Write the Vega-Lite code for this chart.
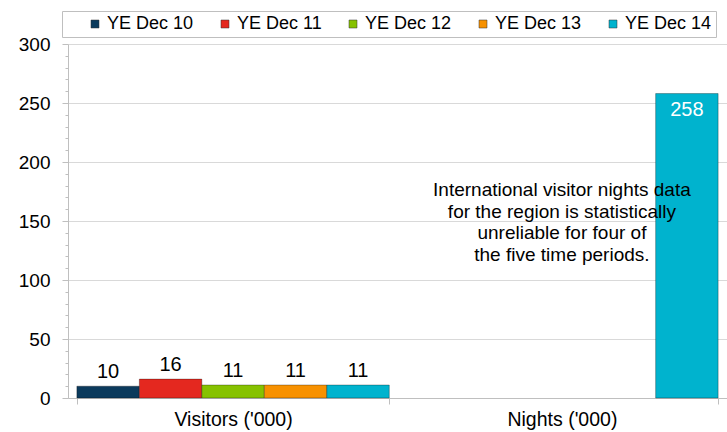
{
  "$schema": "https://vega.github.io/schema/vega-lite/v6.json",
  "width": 659,
  "height": 354,
  "autosize": {"type": "none"},
  "padding": {"left": 68, "top": 44, "right": 0, "bottom": 34},
  "background": "white",
  "config": {
    "font": "Liberation Sans",
    "view": {"stroke": null},
    "axis": {"labelColor": "#000000", "domainColor": "#BFBFBF", "tickColor": "#BFBFBF", "gridColor": "#D9D9D9"}
  },
  "datasets": {
    "bars": [
      {"measure": "Visitors ('000)", "period": "YE Dec 10", "value": 10},
      {"measure": "Visitors ('000)", "period": "YE Dec 11", "value": 16},
      {"measure": "Visitors ('000)", "period": "YE Dec 12", "value": 11},
      {"measure": "Visitors ('000)", "period": "YE Dec 13", "value": 11},
      {"measure": "Visitors ('000)", "period": "YE Dec 14", "value": 11},
      {"measure": "Nights ('000)", "period": "YE Dec 10", "value": null},
      {"measure": "Nights ('000)", "period": "YE Dec 11", "value": null},
      {"measure": "Nights ('000)", "period": "YE Dec 12", "value": null},
      {"measure": "Nights ('000)", "period": "YE Dec 13", "value": null},
      {"measure": "Nights ('000)", "period": "YE Dec 14", "value": 258}
    ],
    "note": [
      {"measure": "Nights ('000)", "value": 176, "text": ["International visitor nights data", "for the region is statistically", "unreliable for four of", "the five time periods."]}
    ]
  },
  "encoding": {
    "x": {
      "field": "measure",
      "type": "nominal",
      "sort": ["Visitors ('000)", "Nights ('000)"],
      "scale": {"domain": ["Visitors ('000)", "Nights ('000)"], "paddingInner": 0.05, "paddingOuter": 0.027},
      "axis": {"title": null, "labelAngle": 0, "labelFontSize": 19.5, "labelPadding": 6, "tickSize": 6, "tickBand": "extent", "grid": false}
    },
    "y": {
      "field": "value",
      "type": "quantitative",
      "scale": {"domain": [0, 300], "nice": false},
      "axis": {
        "title": null,
        "values": [0,10,20,30,40,50,60,70,80,90,100,110,120,130,140,150,160,170,180,190,200,210,220,230,240,250,260,270,280,290,300],
        "labelExpr": "datum.value % 50 === 0 ? datum.label : ''",
        "labelFontSize": 19,
        "labelPadding": 12,
        "tickSize": {"condition": {"test": "datum.value % 50 === 0", "value": 6}, "value": 3},
        "gridOpacity": {"condition": {"test": "datum.value % 50 === 0", "value": 1}, "value": 0},
        "grid": true
      }
    }
  },
  "layer": [
    {
      "data": {"name": "bars"},
      "mark": {"type": "bar", "stroke": "#000000", "strokeOpacity": 0.3, "strokeWidth": 1},
      "encoding": {
        "xOffset": {"field": "period", "type": "nominal", "scale": {"paddingInner": 0, "paddingOuter": 0}},
        "color": {
          "field": "period",
          "type": "nominal",
          "scale": {
            "domain": ["YE Dec 10", "YE Dec 11", "YE Dec 12", "YE Dec 13", "YE Dec 14"],
            "range": ["#0B3A5C", "#E4281F", "#86C200", "#F79100", "#00B3CE"]
          },
          "legend": {
            "orient": "none",
            "legendX": -6,
            "legendY": -33,
            "direction": "horizontal",
            "title": " ",
            "titleOrient": "left",
            "titleFontSize": 18,
            "titlePadding": 20,
            "labelExpr": "datum.label == 'YE Dec 14' ? datum.label + '  ' : datum.label",
            "padding": 4,
            "strokeColor": "#BFBFBF",
            "symbolType": "square",
            "symbolSize": 64,
            "symbolStrokeWidth": 0.5,
            "symbolStrokeColor": "#333333",
            "labelFontSize": 18,
            "labelColor": "#000000",
            "labelOffset": 3,
            "columnPadding": 22
          }
        }
      }
    },
    {
      "data": {"name": "bars"},
      "transform": [{"filter": "datum.value != null && datum.value < 100"}],
      "mark": {"type": "text", "baseline": "bottom", "dy": -4, "fontSize": 20, "color": "#000000"},
      "encoding": {
        "xOffset": {"field": "period", "type": "nominal", "scale": {"domain": ["YE Dec 10", "YE Dec 11", "YE Dec 12", "YE Dec 13", "YE Dec 14"]}},
        "text": {"field": "value", "type": "quantitative"}
      }
    },
    {
      "data": {"name": "bars"},
      "transform": [{"filter": "datum.value != null && datum.value >= 100"}],
      "mark": {"type": "text", "baseline": "top", "dy": 6, "fontSize": 20, "color": "#FFFFFF"},
      "encoding": {
        "xOffset": {"field": "period", "type": "nominal", "scale": {"domain": ["YE Dec 10", "YE Dec 11", "YE Dec 12", "YE Dec 13", "YE Dec 14"]}},
        "text": {"field": "value", "type": "quantitative"}
      }
    },
    {
      "data": {"name": "note"},
      "mark": {"type": "text", "fontSize": 19, "lineHeight": 21.5, "color": "#000000", "align": "center", "baseline": "middle"},
      "encoding": {
        "text": {"field": "text"}
      }
    }
  ]
}
